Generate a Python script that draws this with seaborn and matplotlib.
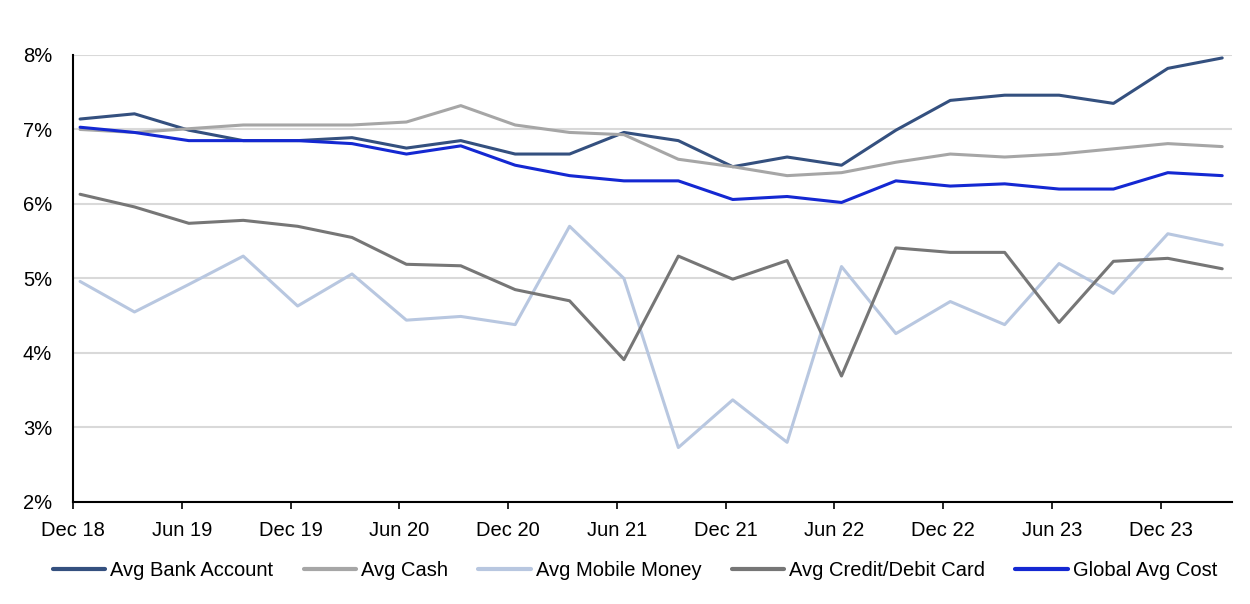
import matplotlib
matplotlib.use("Agg")
import matplotlib.pyplot as plt
import seaborn as sns
import pandas as pd
import numpy as np
from matplotlib.ticker import FuncFormatter

quarters = ["Dec 18", "Mar 19", "Jun 19", "Sep 19", "Dec 19", "Mar 20", "Jun 20", "Sep 20",
            "Dec 20", "Mar 21", "Jun 21", "Sep 21", "Dec 21", "Mar 22", "Jun 22", "Sep 22",
            "Dec 22", "Mar 23", "Jun 23", "Sep 23", "Dec 23", "Mar 24"]

bank_account = [7.14, 7.21, 6.99, 6.85, 6.85, 6.89, 6.75, 6.85, 6.67, 6.67, 6.96, 6.85,
                6.50, 6.63, 6.52, 6.99, 7.39, 7.46, 7.46, 7.35, 7.82, 7.96]
cash = [7.00, 6.96, 7.01, 7.06, 7.06, 7.06, 7.10, 7.32, 7.06, 6.96, 6.93, 6.60,
        6.50, 6.38, 6.42, 6.56, 6.67, 6.63, 6.67, 6.74, 6.81, 6.77]
mobile_money = [4.96, 4.55, 4.92, 5.30, 4.63, 5.06, 4.44, 4.49, 4.38, 5.70, 5.00, 2.73,
                3.37, 2.80, 5.16, 4.26, 4.69, 4.38, 5.20, 4.80, 5.60, 5.45]
credit_debit = [6.13, 5.96, 5.74, 5.78, 5.70, 5.55, 5.19, 5.17, 4.85, 4.70, 3.91, 5.30,
                4.99, 5.24, 3.69, 5.41, 5.35, 5.35, 4.41, 5.23, 5.27, 5.13]
global_avg = [7.03, 6.96, 6.85, 6.85, 6.85, 6.81, 6.67, 6.78, 6.52, 6.38, 6.31, 6.31,
              6.06, 6.10, 6.02, 6.31, 6.24, 6.27, 6.20, 6.20, 6.42, 6.38]

series_names = ["Avg Bank Account", "Avg Cash", "Avg Mobile Money",
                "Avg Credit/Debit Card", "Global Avg Cost"]
series_values = [bank_account, cash, mobile_money, credit_debit, global_avg]
colors = ["#34507F", "#A6A6A6", "#B8C7E0", "#767676", "#1428D2"]

y_ticks = [2, 3, 4, 5, 6, 7, 8]

rows = []
for name, vals in zip(series_names, series_values):
    for i, (q, v) in enumerate(zip(quarters, vals)):
        rows.append({"idx": i, "quarter": q, "value": v, "series": name})
df = pd.DataFrame(rows)

sns.set_style("white")
plt.rcParams["font.family"] = ["Liberation Sans", "DejaVu Sans"]
plt.rcParams["text.color"] = "black"
plt.rcParams["xtick.color"] = "black"
plt.rcParams["ytick.color"] = "black"

fig = plt.figure(figsize=(12.5, 6.04), dpi=100)
ax = fig.add_axes([0.0584, 0.169, 0.9272, 0.740])

sns.lineplot(data=df, x="idx", y="value", hue="series", hue_order=series_names,
             palette=dict(zip(series_names, colors)), linewidth=2.2, ax=ax,
             legend=False, sort=False)

ax.set_ylim(2, 8)
ax.set_yticks(y_ticks)
ax.yaxis.set_major_formatter(FuncFormatter(lambda v, p: f"{v:.0f}%"))
ax.grid(axis="y", color="#D9D9D9", linewidth=1.5)
ax.set_axisbelow(True)

ax.set_xlim(-0.13, len(quarters) - 1 + 0.18)
tick_idx = list(range(0, len(quarters), 2))
ax.set_xticks([i - 0.13 for i in tick_idx])
ax.set_xticklabels([quarters[i] for i in tick_idx])

for s in ["top", "right"]:
    ax.spines[s].set_visible(False)
for s in ["left", "bottom"]:
    ax.spines[s].set_color("black")
    ax.spines[s].set_linewidth(1.5)

ax.tick_params(axis="x", which="major", direction="out", length=5, width=1.2,
               color="black", labelcolor="black", labelsize=14.5, pad=9, bottom=True)
ax.tick_params(axis="y", which="major", length=0, labelsize=14.5, labelcolor="black",
               pad=15, left=False)
ax.set_xlabel("")
ax.set_ylabel("")

handles = [plt.Line2D([0], [0], color=c, linewidth=3.0) for c in colors]
leg = fig.legend(handles, series_names, loc="center", bbox_to_anchor=(0.508, 0.056),
                 ncol=5, frameon=False, fontsize=14.5, handlelength=2.6,
                 handletextpad=0.25, columnspacing=1.5)
for t in leg.get_texts():
    t.set_color("black")

fig.savefig("out.png", dpi=100)
